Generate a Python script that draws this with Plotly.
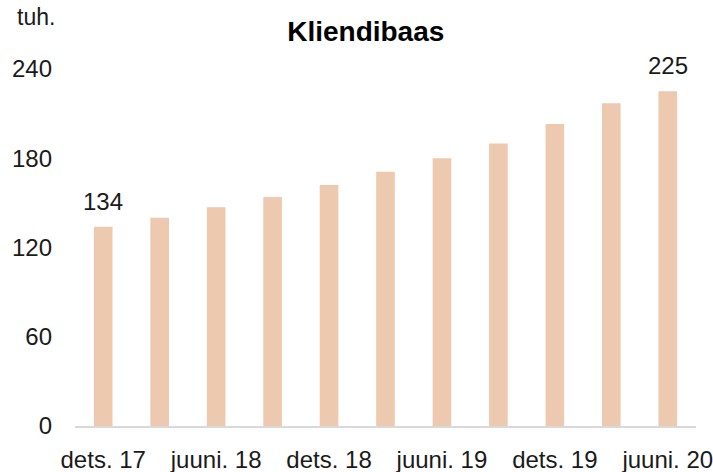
import plotly.graph_objects as go

categories = ["dets. 17", "märts 18", "juuni. 18", "sept. 18", "dets. 18", "märts 19",
              "juuni. 19", "sept. 19", "dets. 19", "märts 20", "juuni. 20"]
values = [134, 140, 147, 154, 162, 171, 180, 190, 203, 217, 225]
tick_labels = ["dets. 17", "juuni. 18", "dets. 18", "juuni. 19", "dets. 19", "juuni. 20"]
y_ticks = [0, 60, 120, 180, 240]
labelled = [0, len(values) - 1]
title = "Kliendibaas"
unit = "tuh."

FONT = "Liberation Sans"
TXT = "#1a1a1a"
fig = go.Figure(go.Bar(
    x=categories, y=values,
    marker=dict(color="#EDC9AF", line=dict(width=0)),
    width=0.33,
))

annotations = [dict(text=str(values[i]), x=categories[i], y=values[i], xref="x", yref="y",
                    xanchor="center", yanchor="bottom", yshift=10, showarrow=False,
                    font=dict(family=FONT, size=24, color=TXT))
               for i in labelled]
annotations.append(dict(text=unit, xref="paper", yref="paper", x=-0.063, y=1.0,
                        xanchor="center", yanchor="middle", yshift=52, showarrow=False,
                        font=dict(family=FONT, size=23, color=TXT)))

fig.update_layout(
    width=713, height=472,
    margin=dict(l=75, r=17, t=69, b=46),
    paper_bgcolor="white", plot_bgcolor="white",
    showlegend=False,
    font=dict(family=FONT, color=TXT),
    title=dict(text="<b>" + title + "</b>", x=0.513, xanchor="center", y=0.933, yanchor="middle",
               font=dict(family=FONT, size=28, color="black")),
    annotations=annotations,
)
fig.update_xaxes(
    type="category", tickmode="array", tickvals=tick_labels, ticktext=tick_labels,
    showgrid=False, showline=True, linecolor="#D9D9D9", linewidth=1.5,
    ticks="", tickfont=dict(family=FONT, size=24, color=TXT),
    ticklabelstandoff=11, automargin=False,
)
fig.update_yaxes(
    range=[0, 240], tickvals=y_ticks, showgrid=False, zeroline=False, showline=False,
    ticks="", tickfont=dict(family=FONT, size=24, color=TXT),
    ticklabelstandoff=22, automargin=False,
)

fig.write_html("out.html", config={"displayModeBar": False},
               post_script="document.body.style.margin='0';")
